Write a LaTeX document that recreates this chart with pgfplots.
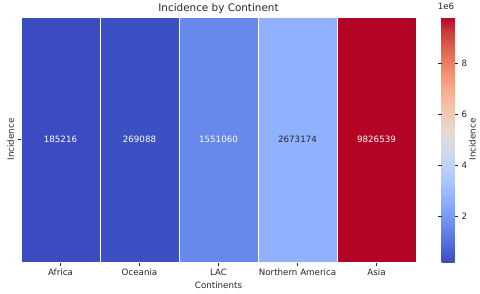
\documentclass[border=0pt]{standalone}
\usepackage{fontspec}
\setmainfont{DejaVu Sans}
\usepackage{pgfplots}
\pgfplotsset{compat=1.18}
\usepgfplotslibrary{patchplots}
\definecolor{txt}{HTML}{262626}
\pgfplotsset{colormap={coolwarm}{
rgb=(0.2298,0.2987,0.7537) rgb=(0.3039,0.4065,0.8450) rgb=(0.3830,0.5094,0.9174)
rgb=(0.4667,0.6046,0.9682) rgb=(0.5530,0.6889,0.9954) rgb=(0.6392,0.7596,0.9982)
rgb=(0.7222,0.8140,0.9766) rgb=(0.7987,0.8498,0.9317) rgb=(0.8654,0.8654,0.8654)
rgb=(0.9241,0.8274,0.7745) rgb=(0.9589,0.7698,0.6780) rgb=(0.9700,0.6943,0.5794)
rgb=(0.9580,0.6028,0.4818) rgb=(0.9239,0.4973,0.3880) rgb=(0.8692,0.3783,0.3003)
rgb=(0.7956,0.2413,0.2205) rgb=(0.7057,0.0156,0.1502)}}
\begin{document}
\begin{tikzpicture}
\begin{axis}[name=ax,
  scale only axis, width=395pt, height=245pt,
  xmin=0, xmax=5, ymin=0, ymax=1,
  axis line style={draw=none},
  tick align=outside, major tick length=3.5pt,
  tick style={txt, line width=0.6pt},
  xtick={0.5,1.5,2.5,3.5,4.5},
  xticklabels={Africa,Oceania,LAC,Northern America,Asia},
  ytick={0.5}, yticklabels={Incidence},
  yticklabel style={rotate=90, anchor=south},
  xtick pos=bottom, ytick pos=left,
  ticklabel style={font=\fontsize{8.7}{10}\selectfont, text=txt},
  xlabel={Continents}, xlabel style={font=\fontsize{8.7}{10}\selectfont, text=txt, yshift=1pt},
  title={Incidence by Continent}, title style={font=\fontsize{10.4}{12}\selectfont, text=txt, yshift=-6pt},
  colormap name=coolwarm,
  point meta min=185216, point meta max=9826539,
  colorbar,
  colorbar style={
    width=13pt,
    at={(parent axis.north east)}, anchor=north west, xshift=17pt,
    axis line style={draw=none},
    ytick={2000000,4000000,6000000,8000000},
    yticklabels={2,4,6,8},
    scaled y ticks=false,
    tick align=outside, major tick length=3.5pt,
    tick style={txt, line width=0.6pt},
    yticklabel style={font=\fontsize{8.7}{10}\selectfont, text=txt},
    ylabel={Incidence}, ylabel style={font=\fontsize{8.7}{10}\selectfont, text=txt, at={(1,0.5)}, anchor=north, yshift=-11pt},
    title={1e6}, title style={font=\fontsize{8.7}{10}\selectfont, text=txt, at={(0.5,1)}, anchor=south, yshift=-2pt, xshift=-2pt},
  },
]
\addplot[patch, patch type=rectangle, shader=flat, point meta=explicit, draw=white, line width=0.6pt]
coordinates {
(0,0) [185216] (1,0) [185216] (1,1) [185216] (0,1) [185216]
(1,0) [269088] (2,0) [269088] (2,1) [269088] (1,1) [269088]
(2,0) [1551060] (3,0) [1551060] (3,1) [1551060] (2,1) [1551060]
(3,0) [2673174] (4,0) [2673174] (4,1) [2673174] (3,1) [2673174]
(4,0) [9826539] (5,0) [9826539] (5,1) [9826539] (4,1) [9826539]
};
\addplot[draw=none, mark=none, point meta=explicit symbolic, nodes near coords,
  nodes near coords style={anchor=center, white, font=\fontsize{8.7}{10}\selectfont}]
coordinates {(0.5,0.5) [185216] (1.5,0.5) [269088] (2.5,0.5) [1551060] (4.5,0.5) [9826539]};
\addplot[draw=none, mark=none, point meta=explicit symbolic, nodes near coords,
  nodes near coords style={anchor=center, txt, font=\fontsize{8.7}{10}\selectfont}]
coordinates {(3.5,0.5) [2673174]};
\end{axis}
\pgfresetboundingbox
\path (ax.south west) ++(-21pt,-31pt) rectangle ([shift={(64pt,17pt)}]ax.north east);
\end{tikzpicture}
\end{document}
